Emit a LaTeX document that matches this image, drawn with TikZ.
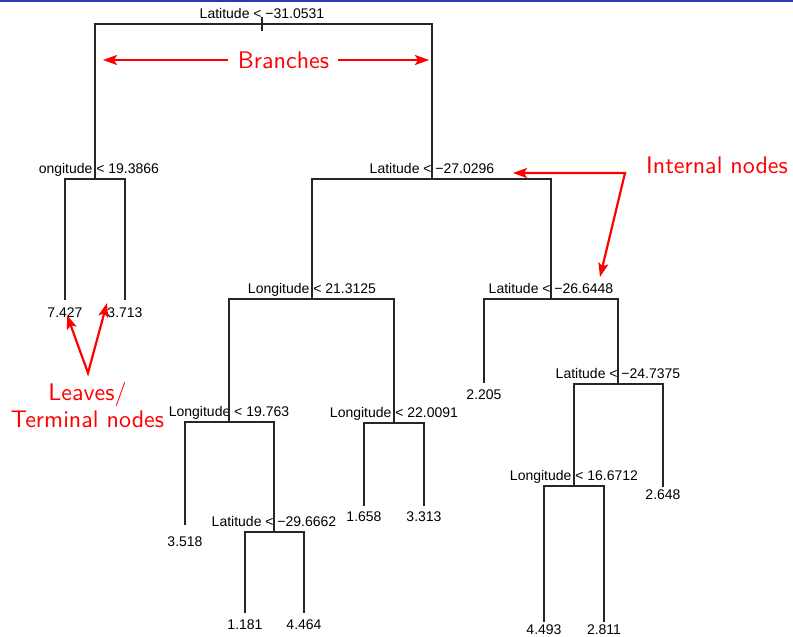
\documentclass[tikz,border=0pt]{standalone}
\usepackage{fontspec}
\newfontfamily\treefont{Liberation Sans}
\newfontfamily\notefont{lmsans10-regular.otf}
\usetikzlibrary{arrows.meta}
\definecolor{slideblue}{RGB}{51,51,179}
\tikzset{
	>={Stealth[length=14pt,width=10pt,inset=3pt]},
	branch/.style={line width=1.1pt, color=black!85},
	split/.style={font=\treefont\fontsize{14}{16}\selectfont, inner sep=0pt, text depth=0pt, yshift=5pt},
	leaf/.style={font=\treefont\fontsize{14}{16}\selectfont, inner sep=0pt, anchor=north},
	note/.style={font=\notefont\fontsize{24}{27}\selectfont, color=red, inner sep=0pt},
	pointer/.style={line width=2.2pt, color=red},
}

\begin{document}
\begin{tikzpicture}[x=1pt, y=-1pt]
			%%%%% START %%%%%
			\useasboundingbox (0, 0) rectangle (793, 637);
			\fill[slideblue] (0, 0) rectangle (793, 1.6);
			
			\begin{scope}
			\clip (39, 0) rectangle (793, 637);
			
			% splits
			\coordinate[label={[split]above:Latitude < −31.0531}] (r) at (262, 24);
			\coordinate[label={[split]above:Longitude < 19.3866}] (a) at (95, 179);
			\coordinate[label={[split]above:Latitude < −27.0296}] (b) at (432, 179);
			\coordinate[label={[split]above:Longitude < 21.3125}] (c) at (312, 299);
			\coordinate[label={[split]above:Latitude < −26.6448}] (d) at (551, 299);
			\coordinate[label={[split]above:Longitude < 19.763}] (e) at (229, 422);
			\coordinate[label={[split]above:Longitude < 22.0091}] (f) at (394, 423);
			\coordinate[label={[split]above:Latitude < −29.6662}] (g) at (274, 532);
			\coordinate[label={[split]above:Latitude < −24.7375}] (h) at (618, 384);
			\coordinate[label={[split]above:Longitude < 16.6712}] (i) at (574, 486);
			
			% leaves
			\node[leaf, outer sep=8pt] (l1) at (65, 300) {7.427};
			\node[leaf, outer sep=8pt] (l2) at (125, 300) {3.713};
			\node[leaf, outer sep=12pt] (l3) at (185, 525) {3.518};
			\node[leaf, outer sep=7pt] (l4) at (245, 613) {1.181};
			\node[leaf, outer sep=7pt] (l5) at (304, 613) {4.464};
			\node[leaf, outer sep=6pt] (l6) at (364, 506) {1.658};
			\node[leaf, outer sep=6pt] (l7) at (424, 506) {3.313};
			\node[leaf, outer sep=7pt] (l8) at (484, 383) {2.205};
			\node[leaf, outer sep=3pt] (l9) at (663, 487) {2.648};
			\node[leaf, outer sep=3pt] (l10) at (544, 622) {4.493};
			\node[leaf, outer sep=3pt] (l11) at (604, 622) {2.811};
			
			\draw[branch] ([yshift=7pt]r) -- ([yshift=-7pt]r);
			\foreach \p/\c in {r/a, r/b, a/l1.north, a/l2.north, b/c, b/d, c/e, c/f,
				e/l3.north, e/g, g/l4.north, g/l5.north, f/l6.north, f/l7.north,
				d/l8.north, d/h, h/i, h/l9.north, i/l10.north, i/l11.north}
				\draw[branch] (\p) -| (\c);
			\end{scope}
			
			% notes
			\node[note] (br) at (283.5, 60) {Branches};
			\coordinate (brL) at (103, 60);
			\coordinate (brR) at (429, 60);
			\draw[pointer, ->] ([xshift=-10pt]br.west) -- (brL);
			\draw[pointer, ->] ([xshift=9pt]br.east) -- (brR);
			
			\node[note] (intl) at (717, 165) {Internal nodes};
			\coordinate (inJ) at (625, 173);
			\coordinate (inA) at (513, 173);
			\coordinate (inB) at (600, 277);
			\draw[pointer, <->] (inA) -- (inJ) -- (inB);
			
			\node[note, align=center] (lv) at (87.5, 405.5) {Leaves/\\Terminal nodes};
			\coordinate (lvJ) at (88, 373);
			\coordinate (lvA) at (67, 315);
			\coordinate (lvB) at (107, 303);
			\draw[pointer, <->] (lvA) -- (lvJ) -- (lvB);
			%%%%% END %%%%%
\end{tikzpicture}
\end{document}
